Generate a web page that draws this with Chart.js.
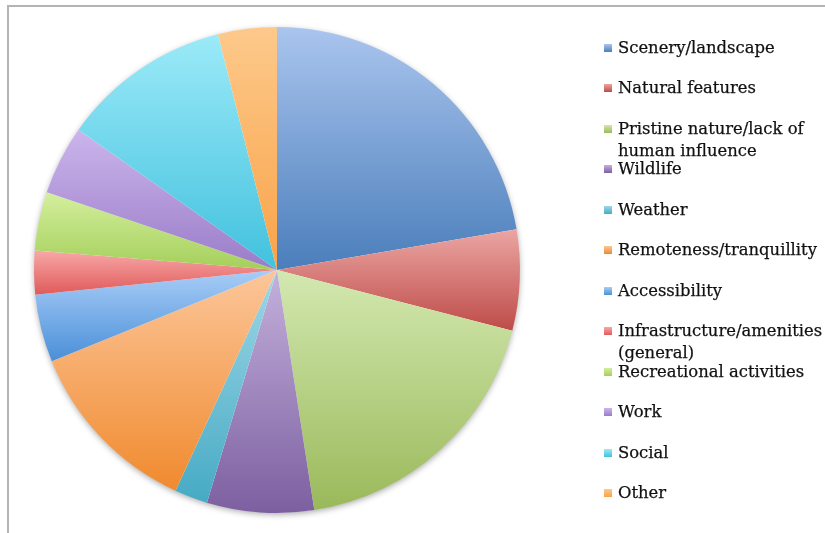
<!DOCTYPE html>
<html>
<head>
<meta charset="utf-8">
<script src="https://cdn.jsdelivr.net/npm/chart.js@4"></script>
<style>
  html, body { margin: 0; padding: 0; background: #fff; }
  #wrap { position: relative; width: 825px; height: 533px; overflow: hidden; }
  #frame { position: absolute; left: 7px; top: 5px; width: 900px; height: 600px;
           border-top: 2px solid #b4b4b4; border-left: 2px solid #b4b4b4; }
  #pie { position: absolute; left: 0; top: 0; }
  #legend { position: absolute; left: 0; top: 0; font-family: "DejaVu Serif", serif;
            font-size: 16.4px; color: #111; -webkit-text-stroke: 0.25px #111; }
  .item { position: absolute; left: 604px; white-space: nowrap; line-height: 22px; }
  .box { position: absolute; left: 0; top: 7px; width: 8px; height: 8px; -webkit-text-stroke: 0; }
  .txt { position: absolute; left: 14px; top: 0; }
</style>
</head>
<body>
<div id="wrap">
  <div id="frame"></div>
  <canvas id="pie" width="825" height="533"></canvas>
  <div id="legend"></div>
</div>
<script>
const categories = [
  "Scenery/landscape",
  "Natural features",
  ["Pristine nature/lack of", "human influence"],
  "Wildlife",
  "Weather",
  "Remoteness/tranquillity",
  "Accessibility",
  ["Infrastructure/amenities", "(general)"],
  "Recreational activities",
  "Work",
  "Social",
  "Other"
];
const shares = [22.3, 6.7, 18.5, 7.1, 2.2, 12.0, 4.5, 2.9, 3.9, 4.6, 11.3, 3.9];

// top (light) and bottom (dark) shade of every slice
const lightColors = ["#aac5ee", "#eba6a3", "#d3e8b0", "#c4b1dc", "#9fd7e6", "#fcc69a",
                     "#a9cdf7", "#f8a8a8", "#d4ef9e", "#cbb5ec", "#9ceaf8", "#fdc98b"];
const darkColors  = ["#4a7ebb", "#be4b48", "#9ab95a", "#7c5fa0", "#46aac4", "#f08a2e",
                     "#4a8fd8", "#e05a5a", "#a4cf5a", "#9a7cc8", "#42c1de", "#f9a349"];

// vertical extent of a sector, used for its gradient
function sectorSpan(cx, cy, r, a0, a1) {
  const ys = [cy, cy + r * Math.sin(a0), cy + r * Math.sin(a1)];
  for (let k = -2; k <= 2; k++) {
    const down = Math.PI / 2 + k * 2 * Math.PI;
    const up = -Math.PI / 2 + k * 2 * Math.PI;
    if (down > a0 && down < a1) ys.push(cy + r);
    if (up > a0 && up < a1) ys.push(cy - r);
  }
  return [Math.min(...ys), Math.max(...ys)];
}

const sliceGradient = {
  id: "sliceGradient",
  beforeDatasetsDraw(chart) {
    const ctx = chart.ctx;
    const arcs = chart.getDatasetMeta(0).data;
    if (!arcs.length) return;
    // soft shadow under the whole pie
    const a = arcs[0];
    ctx.save();
    ctx.shadowColor = "rgba(0,0,0,0.35)";
    ctx.shadowBlur = 6;
    ctx.shadowOffsetY = 2;
    ctx.beginPath();
    ctx.arc(a.x, a.y, a.outerRadius - 0.5, 0, Math.PI * 2);
    ctx.fillStyle = "#ffffff";
    ctx.fill();
    ctx.restore();

    arcs.forEach((arc, i) => {
      const [top, bottom] = sectorSpan(arc.x, arc.y, arc.outerRadius, arc.startAngle, arc.endAngle);
      const g = ctx.createLinearGradient(0, top, 0, bottom);
      g.addColorStop(0, lightColors[i]);
      g.addColorStop(1, darkColors[i]);
      arc.options = Object.assign({}, arc.options, { backgroundColor: g });
    });
  }
};

new Chart(document.getElementById("pie").getContext("2d"), {
  type: "pie",
  data: {
    labels: categories,
    datasets: [{
      data: shares,
      backgroundColor: darkColors,
      borderWidth: 0
    }]
  },
  options: {
    responsive: false,
    animation: false,
    layout: { padding: { left: 34, right: 305, top: 27, bottom: 20 } },
    plugins: {
      legend: { display: false },
      tooltip: { enabled: false }
    }
  },
  plugins: [sliceGradient]
});

// legend on the right, one row every ~40px
const legend = document.getElementById("legend");
categories.forEach((label, i) => {
  const row = document.createElement("div");
  row.className = "item";
  row.style.top = (48 + i * 40.45 - 11) + "px";
  const box = document.createElement("div");
  box.className = "box";
  box.style.background = `linear-gradient(${lightColors[i]}, ${darkColors[i]})`;
  const txt = document.createElement("div");
  txt.className = "txt";
  txt.innerHTML = Array.isArray(label) ? label.join("<br>") : label;
  row.appendChild(box);
  row.appendChild(txt);
  legend.appendChild(row);
});
</script>
</body>
</html>
